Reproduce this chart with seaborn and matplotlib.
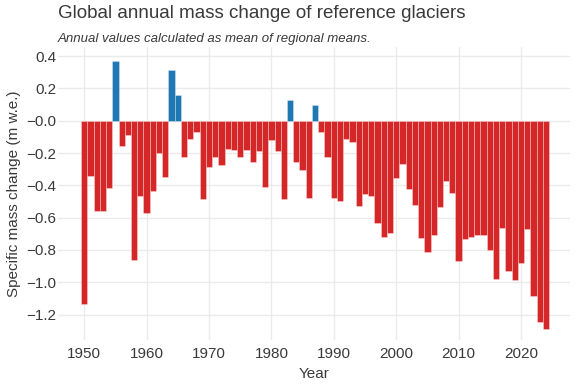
import matplotlib
matplotlib.use("Agg")
import matplotlib.pyplot as plt
import seaborn as sns
import pandas as pd
import numpy as np

years = list(range(1950, 2025))
values = [
    -1.134, -0.342, -0.557, -0.557, -0.417, 0.371, -0.157, -0.089, -0.862, -0.464,
    -0.571, -0.433, -0.200, -0.347, 0.316, 0.157, -0.223, -0.113, -0.068, -0.485,
    -0.285, -0.227, -0.276, -0.175, -0.184, -0.223, -0.182, -0.254, -0.186, -0.413,
    -0.120, -0.188, -0.485, 0.126, -0.258, -0.305, -0.478, 0.095, -0.072, -0.227,
    -0.481, -0.499, -0.113, -0.130, -0.526, -0.454, -0.468, -0.633, -0.718, -0.695,
    -0.355, -0.268, -0.425, -0.520, -0.726, -0.813, -0.708, -0.534, -0.373, -0.450,
    -0.868, -0.732, -0.722, -0.707, -0.707, -0.802, -0.982, -0.664, -0.930, -0.988,
    -0.879, -0.672, -1.085, -1.246, -1.291,
]
ytick_values = [0.4, 0.2, 0.0, -0.2, -0.4, -0.6, -0.8, -1.0, -1.2]
ytick_labels = ["0.4", "0.2", "\u22120.0", "\u22120.2", "\u22120.4", "\u22120.6",
                "\u22120.8", "\u22121.0", "\u22121.2"]
xtick_values = [1950, 1960, 1970, 1980, 1990, 2000, 2010, 2020]

df = pd.DataFrame({"year": years, "value": values})
df["sign"] = np.where(df["value"] >= 0, "pos", "neg")

sns.set_theme(style="white")
plt.rcParams["font.family"] = ["Liberation Sans", "DejaVu Sans"]

fig = plt.figure(figsize=(5.76, 3.84), dpi=100)
W, H = 576, 384
left, right, top, bottom = 58, 570, 47, 340
ax = fig.add_axes([left / W, 1 - bottom / H, (right - left) / W, (bottom - top) / H])

sns.barplot(data=df, x="year", y="value", hue="sign",
            palette={"pos": "#1f77b4", "neg": "#d62728"},
            native_scale=True, width=1.0, dodge=False, legend=False, ax=ax,
            edgecolor=(1, 1, 1, 0.35), linewidth=0.6, saturation=1)

ax.set_xlim(1945.8, 2027.85)
ax.set_ylim(-1.357, 0.456)
ax.set_yticks(ytick_values)
ax.set_yticklabels(ytick_labels)
ax.set_xticks(xtick_values)
ax.set_xticklabels([str(v) for v in xtick_values])
ax.grid(True, color="#ebebeb", linewidth=1.0)
ax.set_axisbelow(True)
for s in ax.spines.values():
    s.set_visible(False)
ax.tick_params(axis="both", length=0, labelsize=11, colors="#3a3a3a")
ax.tick_params(axis="y", pad=1)
ax.tick_params(axis="x", pad=5)
ax.set_xlabel("Year", fontsize=11, color="#3a3a3a", labelpad=4)
ax.set_ylabel("Specific mass change (m w.e.)", fontsize=11, color="#3a3a3a", labelpad=4)

fig.text(left / W, 1 - 14 / H, "Global annual mass change of reference glaciers",
         fontsize=13.5, color="#3a3a3a", va="center", ha="left")
fig.text(left / W, 1 - 39 / H, "Annual values calculated as mean of regional means.",
         fontsize=9.5, style="italic", color="#3a3a3a", va="center", ha="left")

fig.savefig("out.png", dpi=100)
